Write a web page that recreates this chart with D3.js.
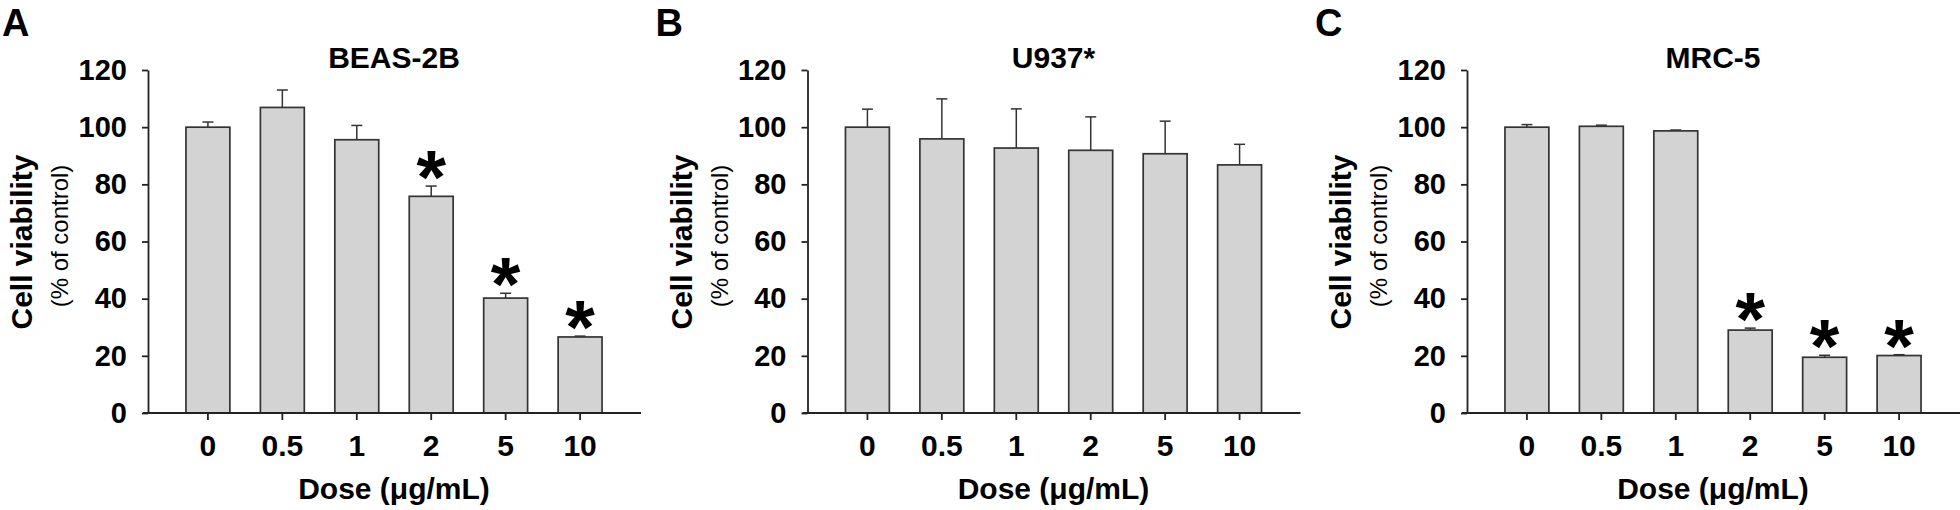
<!DOCTYPE html>
<html>
<head>
<meta charset="utf-8">
<script src="https://cdn.jsdelivr.net/npm/d3@7"></script>
<style>
  html, body { margin: 0; padding: 0; background: #fff; }
  svg { display: block; }
  text { font-family: "Liberation Sans", Arial, Helvetica, sans-serif; fill: #000; }
</style>
</head>
<body>
<svg id="chart" width="1960" height="510"></svg>
<script>
// ---- data ----
const doses = ["0", "0.5", "1", "2", "5", "10"];
const yTicks = [0, 20, 40, 60, 80, 100, 120];
const panelLetters = ["A", "B", "C"];
const panelTitles = ["BEAS-2B", "U937*", "MRC-5"];

const beasValues = [100, 106.9, 95.6, 75.8, 40.2, 26.6];
const beasErrors = [1.8, 6.1, 5.0, 3.6, 1.7, 0.3];
const beasSig    = [false, false, false, true, true, true];

const u937Values = [100, 95.9, 92.7, 91.9, 90.7, 86.8];
const u937Errors = [6.3, 14.0, 13.7, 11.7, 11.4, 7.2];
const u937Sig    = [false, false, false, false, false, false];

const mrcValues  = [100, 100.3, 98.7, 29.0, 19.5, 20.1];
const mrcErrors  = [0.9, 0.4, 0.3, 0.7, 0.7, 0.3];
const mrcSig     = [false, false, false, true, true, true];

const yLabel = "Cell viability";
const ySubLabel = "(% of control)";
const xLabel = "Dose (\u03BCg/mL)";

// ---- layout ----
const panels = [
  { letter: panelLetters[0], title: panelTitles[0], values: beasValues, errors: beasErrors, sig: beasSig, offset: 0,      letterX: 2 },
  { letter: panelLetters[1], title: panelTitles[1], values: u937Values, errors: u937Errors, sig: u937Sig, offset: 659.5,  letterX: -4 },
  { letter: panelLetters[2], title: panelTitles[2], values: mrcValues,  errors: mrcErrors,  sig: mrcSig,  offset: 1319,   letterX: -4 }
];

const svg = d3.select("#chart");
const axisX0 = 148, axisX1 = 640, yTop = 70, yBottom = 413;

const x = d3.scaleBand().domain(doses).range([axisX0, axisX1]).paddingInner(0.41).paddingOuter(0.51);
const y = d3.scaleLinear().domain([0, 120]).range([yBottom, yTop]);

panels.forEach(p => {
  const g = svg.append("g").attr("transform", `translate(${p.offset},0)`);
  const data = doses.map((d, i) => ({ dose: d, v: p.values[i], e: p.errors[i], s: p.sig[i] }));

  // panel letter
  g.append("text").attr("x", p.letterX).attr("y", 36)
    .attr("font-size", 38).attr("font-weight", "bold").text(p.letter);

  // title
  g.append("text").attr("x", (axisX0 + axisX1) / 2).attr("y", 68)
    .attr("text-anchor", "middle").attr("font-size", 30).attr("font-weight", "bold").text(p.title);

  // error bars
  const eb = g.append("g").attr("stroke", "#333").attr("stroke-width", 1.5).attr("fill", "none");
  eb.selectAll("line.v").data(data).join("line").attr("class", "v")
    .attr("x1", d => x(d.dose) + x.bandwidth() / 2).attr("x2", d => x(d.dose) + x.bandwidth() / 2)
    .attr("y1", d => y(d.v)).attr("y2", d => y(d.v + d.e));
  eb.selectAll("line.c").data(data).join("line").attr("class", "c")
    .attr("x1", d => x(d.dose) + x.bandwidth() / 2 - 5.5).attr("x2", d => x(d.dose) + x.bandwidth() / 2 + 5.5)
    .attr("y1", d => y(d.v + d.e)).attr("y2", d => y(d.v + d.e));

  // bars
  g.append("g").selectAll("rect").data(data).join("rect")
    .attr("x", d => x(d.dose)).attr("width", x.bandwidth())
    .attr("y", d => y(d.v)).attr("height", d => y(0) - y(d.v))
    .attr("fill", "#d3d3d3").attr("stroke", "#333").attr("stroke-width", 1.7);

  // asterisks
  g.append("g").selectAll("text").data(data.filter(d => d.s)).join("text")
    .attr("x", d => x(d.dose) + x.bandwidth() / 2)
    .attr("y", d => y(d.v + d.e) + 17)
    .attr("text-anchor", "middle").attr("font-size", 76).attr("font-weight", "bold").text("*");

  // y axis
  const ya = g.append("g").attr("transform", `translate(${axisX0},0)`)
    .call(d3.axisLeft(y).tickValues(yTicks).tickSize(6).tickSizeOuter(0).tickPadding(15));
  ya.select(".domain").attr("stroke", "#222").attr("stroke-width", 1.8);
  ya.selectAll(".tick line").attr("stroke", "#222").attr("stroke-width", 1.8);
  ya.selectAll(".tick text").attr("font-size", 29).attr("font-weight", "bold")
    .attr("font-family", "'Liberation Sans', Arial, sans-serif").attr("fill", "#000");

  // x axis
  const xa = g.append("g").attr("transform", `translate(0,${yBottom})`)
    .call(d3.axisBottom(x).tickSize(7).tickSizeOuter(0).tickPadding(15));
  xa.select(".domain").remove();
  xa.selectAll(".tick line").attr("stroke", "#222").attr("stroke-width", 1.8);
  xa.selectAll(".tick text").attr("font-size", 30).attr("font-weight", "bold")
    .attr("font-family", "'Liberation Sans', Arial, sans-serif").attr("fill", "#000");
  g.append("line").attr("x1", axisX0 - 5).attr("x2", axisX1 + 1)
    .attr("y1", yBottom).attr("y2", yBottom).attr("stroke", "#222").attr("stroke-width", 1.8);

  // x label
  g.append("text").attr("x", (axisX0 + axisX1) / 2).attr("y", 499)
    .attr("text-anchor", "middle").attr("font-size", 30).attr("font-weight", "bold").text(xLabel);

  // y labels
  g.append("text").attr("transform", `translate(32,242) rotate(-90)`)
    .attr("text-anchor", "middle").attr("font-size", 30).attr("font-weight", "bold").text(yLabel);
  g.append("text").attr("transform", `translate(68,236) rotate(-90)`)
    .attr("text-anchor", "middle").attr("font-size", 24).text(ySubLabel);
});
</script>
</body>
</html>
